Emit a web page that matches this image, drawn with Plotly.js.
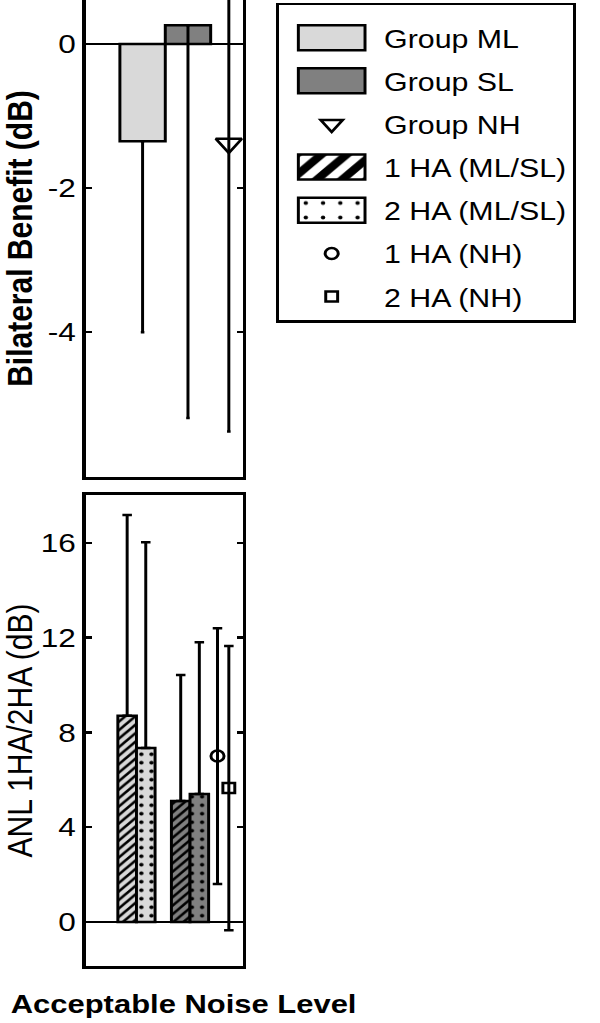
<!DOCTYPE html>
<html>
<head>
<meta charset="utf-8">
<script src="https://cdn.plot.ly/plotly-3.0.1.min.js"></script>
<style>
html, body { margin: 0; padding: 0; background: #fff; overflow: hidden; }
#chart { width: 504px; height: 1023px; transform: scaleX(1.190476); transform-origin: 0 0; }
</style>
</head>
<body>
<div id="chart"></div>
<script>
// ---------------- data ----------------
const benefitGroups   = ['Group ML', 'Group SL', 'Group NH'];
const benefitMean     = [-1.35, 0.26, -1.38];
const benefitErrUp    = [0, 0, 4.0];
const benefitErrDown  = [2.65, 5.45, 4.0];

const anlGroups       = ['ML', 'SL'];
const anl1HA          = [8.7, 5.1];
const anl1HAErrUp     = [8.47, 5.32];
const anl2HA          = [7.34, 5.4];
const anl2HAErrUp     = [8.69, 6.4];

const anlNH1HA        = [7.0];
const anlNH1HAErr     = [5.4];
const anlNH2HA        = [5.65];
const anlNH2HAErr     = [6.0];

const benefitTickVals = [-4, -2, 0];
const benefitTickText = ['-4', '-2', '0'];
const anlTickVals     = [0, 4, 8, 12, 16];
const anlTickText     = ['0', '4', '8', '12', '16'];

// ---------------- layout constants (positions / styles) ----------------
const posBenefit = [1, 2, 2.9];
const pos1HA = [0.66, 1.84];
const pos2HA = [1.07, 2.25];
const posNH1 = [2.65];
const posNH2 = [2.9];
const groupColor = [ '#d9d9d9', '#808080' ];
const FONT = 'Liberation Sans, Arial, Helvetica, sans-serif';
const barLine = { color: '#000', width: 2.5 };
const errStyle = { color: '#000', thickness: 2.5 };

const traces = [
  { type: 'bar', name: benefitGroups[0], legendgroup: 'g1', xaxis: 'x', yaxis: 'y',
    x: [posBenefit[0]], y: [benefitMean[0]], width: 1.0,
    marker: { color: groupColor[0], line: barLine },
    error_y: Object.assign({ type: 'data', symmetric: false, array: [benefitErrUp[0]], arrayminus: [benefitErrDown[0]], width: 1.5 }, errStyle) },
  { type: 'bar', name: benefitGroups[1], legendgroup: 'g2', xaxis: 'x', yaxis: 'y',
    x: [posBenefit[1]], y: [benefitMean[1]], width: 1.0,
    marker: { color: groupColor[1], line: barLine },
    error_y: Object.assign({ type: 'data', symmetric: false, array: [benefitErrUp[1]], arrayminus: [benefitErrDown[1]], width: 1.5 }, errStyle) },
  { type: 'scatter', mode: 'markers', name: benefitGroups[2], legendgroup: 'g3', xaxis: 'x', yaxis: 'y',
    x: [posBenefit[2]], y: [benefitMean[2]],
    marker: { symbol: 'triangle-down-open', size: 19, color: '#000', line: { width: 2.5 } },
    error_y: Object.assign({ type: 'data', symmetric: false, array: [benefitErrUp[2]], arrayminus: [benefitErrDown[2]], width: 1.5 }, errStyle) },
  // legend swatches for the hearing-aid conditions (no data of their own)
  { type: 'bar', name: '1 HA (ML/SL)', legendgroup: 'g4', xaxis: 'x2', yaxis: 'y2', x: [posNH1[0]], y: [null],
    marker: { color: '#fff', line: barLine, pattern: { shape: '/', bgcolor: '#fff', fgcolor: '#000', size: 10, solidity: 0.5 } } },
  { type: 'bar', name: '2 HA (ML/SL)', legendgroup: 'g5', xaxis: 'x2', yaxis: 'y2', x: [posNH1[0]], y: [null],
    marker: { color: '#fff', line: barLine, pattern: { shape: '.', bgcolor: '#fff', fgcolor: '#000', size: 10, solidity: 0.05 } } },
  { type: 'scatter', mode: 'markers', name: '1 HA (NH)', legendgroup: 'g6', xaxis: 'x2', yaxis: 'y2',
    x: posNH1, y: anlNH1HA,
    marker: { symbol: 'circle-open', size: 11, color: '#000', line: { width: 2.5 } },
    error_y: Object.assign({ type: 'data', array: anlNH1HAErr, width: 4 }, errStyle) },
  { type: 'scatter', mode: 'markers', name: '2 HA (NH)', legendgroup: 'g7', xaxis: 'x2', yaxis: 'y2',
    x: posNH2, y: anlNH2HA,
    marker: { symbol: 'square-open', size: 10, color: '#000', line: { width: 2.5 } },
    error_y: Object.assign({ type: 'data', array: anlNH2HAErr, width: 4 }, errStyle) }
];

// hearing-impaired group bars (one trace per group and condition)
anlGroups.forEach(function (g, i) {
  traces.push({ type: 'bar', name: '1 HA ' + g, showlegend: false, xaxis: 'x2', yaxis: 'y2',
    x: [pos1HA[i]], y: [anl1HA[i]], width: 0.41,
    marker: { color: groupColor[i], line: barLine,
      pattern: { shape: '/', bgcolor: groupColor[i], fgcolor: '#000', size: 6, solidity: 0.4 } },
    error_y: Object.assign({ type: 'data', symmetric: false, array: [anl1HAErrUp[i]], arrayminus: [0], width: 4 }, errStyle) });
  traces.push({ type: 'bar', name: '2 HA ' + g, showlegend: false, xaxis: 'x2', yaxis: 'y2',
    x: [pos2HA[i]], y: [anl2HA[i]], width: 0.41,
    marker: { color: groupColor[i], line: barLine,
      pattern: { shape: '.', bgcolor: groupColor[i], fgcolor: '#000', size: 8.5, solidity: 0.14 } },
    error_y: Object.assign({ type: 'data', symmetric: false, array: [anl2HAErrUp[i]], arrayminus: [0], width: 4 }, errStyle) });
});

const xRange = [-0.253, 3.209];
const commonX = { range: xRange, showline: true, linewidth: 3, linecolor: '#000', showticklabels: false,
  ticks: '', showgrid: false, zeroline: false, fixedrange: true };
const commonY = { showline: true, linewidth: 3, linecolor: '#000', mirror: 'ticks', ticks: 'inside',
  ticklen: 5, tickwidth: 2.5, tickcolor: '#000', showgrid: false, zeroline: true, zerolinecolor: '#000',
  zerolinewidth: 2, tickfont: { family: FONT, size: 26.5, color: '#000' }, ticklabelstandoff: 0, fixedrange: true };

const layout = {
  width: 504, height: 1023,
  margin: { l: 72, r: 300, t: 0, b: 57 },
  paper_bgcolor: '#fff', plot_bgcolor: '#fff',
  font: { family: FONT, color: '#000' },
  barmode: 'overlay',
  showlegend: true,
  xaxis: Object.assign({}, commonX, { anchor: 'y', mirror: false }),
  yaxis: Object.assign({}, commonY, { domain: [0.5062, 1], anchor: 'x', range: [-6.01, 0.61],
    tickvals: benefitTickVals, ticktext: benefitTickText,
    title: { text: 'Bilateral Benefit (dB)', font: { family: FONT, size: 30, weight: 700, color: '#000' }, standoff: 10 } }),
  xaxis2: Object.assign({}, commonX, { anchor: 'y2', mirror: true }),
  yaxis2: Object.assign({}, commonY, { domain: [0, 0.4876], anchor: 'x2', range: [-1.86, 18.02],
    tickvals: anlTickVals, ticktext: anlTickText,
    title: { text: 'ANL 1HA/2HA (dB)', font: { family: FONT, size: 30, color: '#000' }, standoff: 17 } }),
  legend: { x: 1.213, xanchor: 'left', y: 0.9969, yanchor: 'top', bgcolor: '#fff', bordercolor: '#000',
    borderwidth: 2.5, font: { family: FONT, size: 25.5, color: '#000' }, itemwidth: 78,
    tracegroupgap: 7, traceorder: 'grouped',
    title: { text: ' ', font: { family: FONT, size: 7 } } },
  annotations: [
    { text: 'Acceptable Noise Level', xref: 'paper', yref: 'paper', x: -0.49, y: -0.0393,
      xanchor: 'left', yanchor: 'middle', showarrow: false,
      font: { family: FONT, size: 26, weight: 700, color: '#000' } }
  ]
};

// legend swatches: draw them as large boxes like the reference
function enlargeSwatches(gd) {
  gd.querySelectorAll('.legend .legendpoints path').forEach(function (p) {
    if (p.classList.contains('legendbar') || p.getAttribute('d') === 'M6,6H-6V-6H6Z') {
      p.setAttribute('d', 'M28,12.5H-28V-12.5H28Z');
    }
  });
  gd.querySelectorAll('pattern').forEach(function (pt) {
    if ((pt.id || '').indexOf('legend') === -1) return;
    if (pt.querySelector('circle')) pt.setAttribute('patternTransform', 'scale(1.45)');
    else pt.setAttribute('patternTransform', 'scale(1.5)');
  });
}

Plotly.newPlot('chart', traces, layout, { staticPlot: true, displayModeBar: false }).then(function (gd) {
  enlargeSwatches(gd);
  gd.on('plotly_afterplot', function () { enlargeSwatches(gd); });
  setTimeout(function () { enlargeSwatches(gd); }, 200);
});
</script>
</body>
</html>
